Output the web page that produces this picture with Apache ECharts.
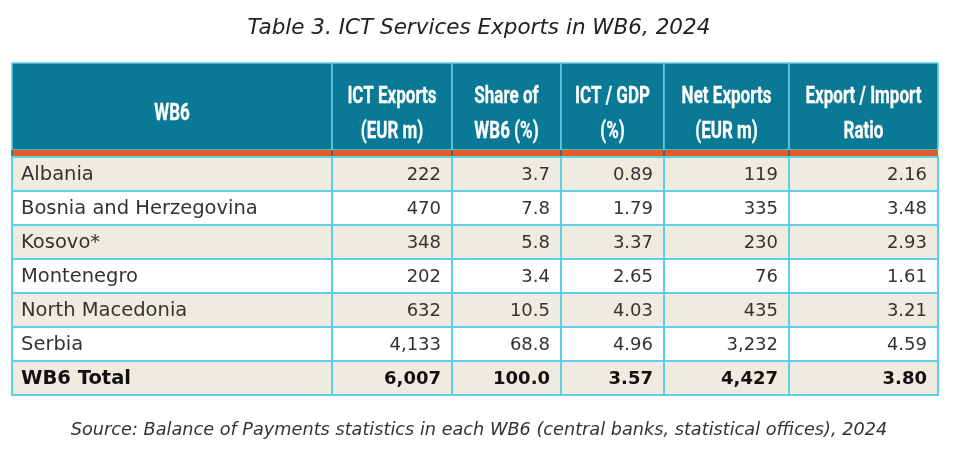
<!DOCTYPE html>
<html>
<head>
<meta charset="utf-8">
<script src="https://cdn.jsdelivr.net/npm/echarts@6/dist/echarts.min.js"></script>
<style>
  html, body { margin: 0; padding: 0; background: #fff; }
  #main { width: 975px; height: 461px; }
</style>
</head>
<body>
<div id="main"></div>
<script>
// table content
var headers = ['WB6', 'ICT Exports\n(EUR m)', 'Share of\nWB6 (%)', 'ICT / GDP\n(%)', 'Net Exports\n(EUR m)', 'Export / Import\nRatio'];
var countries = ['Albania', 'Bosnia and Herzegovina', 'Kosovo*', 'Montenegro', 'North Macedonia', 'Serbia', 'WB6 Total'];
var ictExports = [222, 470, 348, 202, 632, 4133, 6007];
var shareWb6 = [3.7, 7.8, 5.8, 3.4, 10.5, 68.8, 100.0];
var ictGdp = [0.89, 1.79, 3.37, 2.65, 4.03, 4.96, 3.57];
var netExports = [119, 335, 230, 76, 435, 3232, 4427];
var expImpRatio = [2.16, 3.48, 2.93, 1.61, 3.21, 4.59, 3.80];
var decimals = [0, 0, 1, 2, 0, 2];

// layout of the grid (pixels of the table)
var colWidths = [320, 120, 109, 103, 125, 149];
var rowHeights = [87, 7, 34, 34, 34, 34, 34, 34, 34];

var columns = [countries, ictExports, shareWb6, ictGdp, netExports, expImpRatio];

function edges(arr) {
    var e = [0];
    for (var i = 0; i < arr.length; i++) e.push(e[i] + arr[i]);
    return e;
}
var colEdges = edges(colWidths);
var rowEdges = edges(rowHeights);

function fmt(v, d) {
    var s = v.toFixed(d);
    var parts = s.split('.');
    parts[0] = parts[0].replace(/\B(?=(\d{3})+(?!\d))/g, ',');
    return parts.join('.');
}

var cells = [];
for (var r = 0; r < rowHeights.length; r++) {
    for (var c = 0; c < colWidths.length; c++) {
        cells.push([c, r]);
    }
}

var teal = '#0a7996', orange = '#e35c25', beige = '#efebe1', line = '#5dcfe6';
var bodyFont = 'DejaVu Sans';

function renderItem(params, api) {
    var c = api.value(0), r = api.value(1);
    var p0 = api.coord([colEdges[c], rowEdges[r]]);
    var p1 = api.coord([colEdges[c + 1], rowEdges[r + 1]]);
    var x = p0[0], y = p0[1], w = p1[0] - p0[0], h = p1[1] - p0[1];
    var children = [];
    if (r === 0) {
        children.push({ type: 'rect', shape: { x: x, y: y, width: w, height: h },
            style: { fill: teal, stroke: line, lineWidth: 1.5 } });
        children.push({ type: 'text', x: x + w / 2, y: y + h / 2 + 8, scaleX: 0.74,
            style: { text: headers[c], fill: '#fff', align: 'center', verticalAlign: 'middle',
                fontFamily: 'Roboto', fontWeight: 'bold', fontSize: 23, lineHeight: 35,
                stroke: '#fff', lineWidth: 0.3 } });
    } else if (r === 1) {
        children.push({ type: 'rect', shape: { x: x, y: y, width: w, height: h },
            style: { fill: orange } });
        children.push({ type: 'line', shape: { x1: x, y1: y, x2: x, y2: y + h },
            style: { stroke: '#0d6f88', lineWidth: 1.5 } });
    } else {
        var i = r - 2;
        var total = i === countries.length - 1;
        children.push({ type: 'rect', shape: { x: x, y: y, width: w, height: h },
            style: { fill: i % 2 === 0 ? beige : '#fff', stroke: line, lineWidth: 2 } });
        var txt = c === 0 ? countries[i] : fmt(columns[c][i], decimals[c]);
        children.push({ type: 'text', x: c === 0 ? x + 9 : x + w - 11, y: y + h / 2 + 1,
            style: { text: txt, fill: total ? '#111' : '#333', align: c === 0 ? 'left' : 'right',
                verticalAlign: 'middle', fontFamily: bodyFont, fontSize: c === 0 ? 19.5 : 18,
                fontWeight: total ? 'bold' : 'normal' } });
    }
    return { type: 'group', children: children };
}

var chart = echarts.init(document.getElementById('main'), null, { renderer: 'canvas' });
chart.setOption({
    animation: false,
    title: [{
        text: 'Table 3. ICT Services Exports in WB6, 2024',
        left: 474, top: 12, textAlign: 'center',
        textStyle: { fontFamily: bodyFont, fontStyle: 'italic', fontWeight: 'normal', fontSize: 21.5, color: '#222' }
    }, {
        text: 'Source: Balance of Payments statistics in each WB6 (central banks, statistical offices), 2024',
        left: 474, top: 416, textAlign: 'center',
        textStyle: { fontFamily: bodyFont, fontStyle: 'italic', fontWeight: 'normal', fontSize: 17.7, color: '#333' }
    }],
    grid: { left: 12, top: 63, width: 926, height: 332 },
    xAxis: { type: 'value', min: 0, max: colEdges[colEdges.length - 1], show: false },
    yAxis: { type: 'value', min: 0, max: rowEdges[rowEdges.length - 1], inverse: true, show: false },
    series: [{
        type: 'custom',
        renderItem: renderItem,
        data: cells,
        encode: { x: 0, y: 1 },
        clip: false
    }]
});
</script>
</body>
</html>
